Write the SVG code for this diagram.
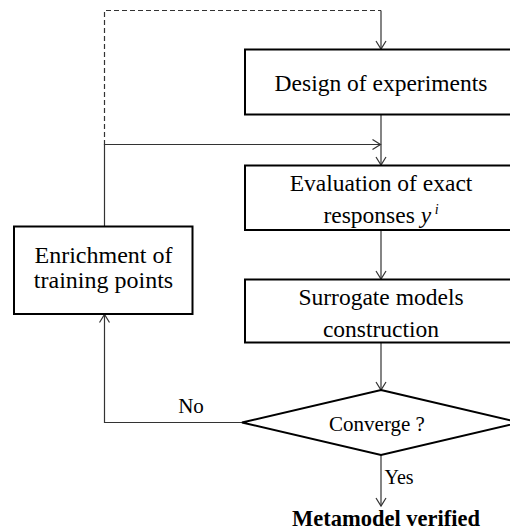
<svg xmlns="http://www.w3.org/2000/svg" width="510" height="531" viewBox="0 0 510 531">
<defs>
<style>
.box{fill:#fff;stroke:#000;stroke-width:2}
.t{font-family:"Liberation Serif","Times New Roman",serif;font-size:23.5px;fill:#000;text-anchor:middle}
.c{fill:none;stroke:#333;stroke-width:1.2}
.d{stroke-dasharray:5,3}
</style>
<marker id="ah" markerUnits="userSpaceOnUse" markerWidth="12" markerHeight="12" refX="9" refY="5.5" orient="auto" viewBox="0 0 12 11">
<path d="M1,0.5 L9,5.5 L1,10.5" fill="none" stroke="#333" stroke-width="1.2"/>
</marker>
</defs>
<rect width="510" height="531" fill="#fff"/>
<g id="connectors">
<path class="c d" d="M104.5,145 V10.5 H381"/>
<path class="c" d="M381,10.5 V49" marker-end="url(#ah)"/>
<path class="c" d="M381,115 V165" marker-end="url(#ah)"/>
<path class="c" d="M104.5,227 V144.5 H380.5" marker-end="url(#ah)"/>
<path class="c" d="M381,230 V279" marker-end="url(#ah)"/>
<path class="c" d="M381,343 V390" marker-end="url(#ah)"/>
<path class="c" d="M242,422.5 H104.5 V314.5" marker-end="url(#ah)"/>
<path class="c" d="M381,455 V506" marker-end="url(#ah)"/>
<text class="t" x="191" y="413" style="font-size:21px">No</text>
<text class="t" x="384.5" y="484.3" style="font-size:20px;text-anchor:start">Yes</text>
</g>
<g id="design">
<rect class="box" x="245" y="49.5" width="272" height="65"/>
<text class="t" x="381" y="91">Design of experiments</text>
</g>
<g id="evaluation">
<rect class="box" x="245" y="165.5" width="272" height="64.5"/>
<text class="t" x="381" y="190.7">Evaluation of exact</text>
<text class="t" x="381" y="223.3">responses <tspan font-style="italic">y</tspan><tspan font-style="italic" font-size="14" dy="-9"> i</tspan></text>
</g>
<g id="surrogate">
<rect class="box" x="245" y="279.5" width="272" height="63"/>
<text class="t" x="381" y="305">Surrogate models</text>
<text class="t" x="381" y="336.7">construction</text>
</g>
<g id="enrichment">
<rect class="box" x="14" y="226.5" width="178.5" height="87.5"/>
<text class="t" x="103.5" y="262.7" style="font-size:24px">Enrichment of</text>
<text class="t" x="103.5" y="288.3" style="font-size:24px">training points</text>
</g>
<g id="converge">
<polygon class="box" points="381,390 520,422.5 381,455 242,422.5"/>
<text class="t" x="377" y="430.7" style="font-size:21px">Converge ?</text>
</g>
<g id="verified">
<text class="t" x="386" y="526" style="font-size:22.5px;font-weight:bold">Metamodel verified</text>
</g>
</svg>
